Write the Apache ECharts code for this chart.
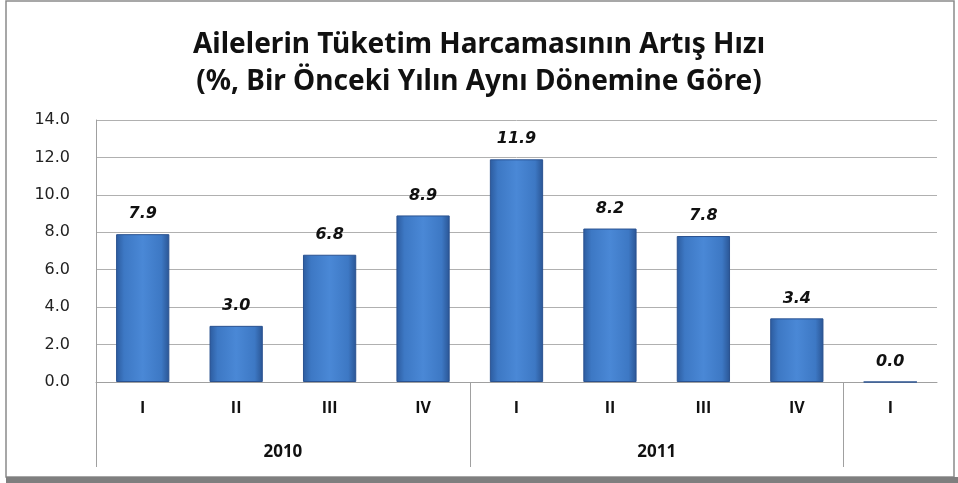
<!DOCTYPE html>
<html>
<head>
<meta charset="utf-8">
<script src="https://cdn.jsdelivr.net/npm/echarts@6/dist/echarts.min.js"></script>
<style>
  html, body { margin: 0; padding: 0; background: #fff; }
  #chart { width: 958px; height: 483px; }
</style>
</head>
<body>
<div id="chart"></div>
<script>
// quarters and values
var quarters = ['I', 'II', 'III', 'IV', 'I', 'II', 'III', 'IV', 'I'];
var values = [7.9, 3.0, 6.8, 8.9, 11.9, 8.2, 7.8, 3.4, 0.0];
// year labels and group dividers, in category units along the x axis
var years = ['2010', '2011'];
var yearCenters = [2, 6];
var groupEdges = [0, 4, 8];

var barColor = new echarts.graphic.LinearGradient(0, 0, 1, 0, [
    { offset: 0, color: '#2c5b9e' },
    { offset: 0.15, color: '#3d78c4' },
    { offset: 0.5, color: '#4a88d6' },
    { offset: 0.85, color: '#3d78c4' },
    { offset: 1, color: '#2a5594' }
]);

var option = {
    backgroundColor: '#fff',
    animation: false,
    title: {
        text: 'Ailelerin Tüketim Harcamasının Artış Hızı\n(%, Bir Önceki Yılın Aynı Dönemine Göre)',
        left: 'center',
        top: 22,
        textStyle: {
            fontFamily: 'Noto Sans',
            fontSize: 28,
            fontWeight: 'bold',
            color: '#111',
            lineHeight: 37
        }
    },
    graphic: [
        {
            type: 'rect',
            shape: { x: 6, y: 1, width: 948, height: 476 },
            style: { fill: 'none', stroke: '#8a8a8a', lineWidth: 1.5 },
            silent: true
        },
        {
            type: 'rect',
            shape: { x: 6, y: 477, width: 952, height: 6 },
            style: { fill: '#7f7f7f' },
            silent: true
        }
    ],
    grid: { left: 96, right: 21, top: 120, bottom: 101 },
    xAxis: [
        {
            type: 'category',
            data: quarters,
            axisLine: { lineStyle: { color: '#a0a0a0', width: 1 } },
            axisTick: { show: false },
            axisLabel: {
                margin: 18,
                fontFamily: 'Open Sans',
                fontSize: 16,
                fontWeight: 'bold',
                color: '#111'
            }
        },
        {
            type: 'value',
            position: 'bottom',
            min: 0,
            max: quarters.length,
            axisLine: { show: false },
            splitLine: { show: false },
            axisTick: {
                show: true,
                customValues: groupEdges,
                length: 85,
                lineStyle: { color: '#a0a0a0' }
            },
            axisLabel: {
                customValues: yearCenters,
                margin: 62,
                fontFamily: 'Open Sans',
                fontSize: 17,
                fontWeight: 'bold',
                color: '#111',
                formatter: function (v) { return years[yearCenters.indexOf(v)] || ''; }
            }
        }
    ],
    yAxis: {
        type: 'value',
        min: 0,
        max: 14,
        interval: 2,
        axisLine: { show: true, lineStyle: { color: '#a0a0a0' } },
        axisTick: { show: false },
        splitLine: { lineStyle: { color: '#b0b0b0', width: 1 } },
        axisLabel: {
            margin: 26,
            fontFamily: 'DejaVu Sans',
            fontSize: 16,
            color: '#222',
            formatter: function (v) { return v.toFixed(1); }
        }
    },
    series: [
        {
            type: 'bar',
            xAxisIndex: 0,
            data: values,
            barWidth: '57%',
            itemStyle: {
                color: barColor,
                borderColor: '#2a5290',
                borderWidth: 1
            },
            label: {
                show: true,
                position: 'top',
                distance: 12,
                fontFamily: 'DejaVu Sans',
                fontSize: 16,
                fontWeight: 'bold',
                fontStyle: 'italic',
                color: '#111',
                formatter: function (p) { return p.value.toFixed(1); }
            }
        }
    ]
};

var myChart = echarts.init(document.getElementById('chart'));
myChart.setOption(option);
</script>
</body>
</html>
